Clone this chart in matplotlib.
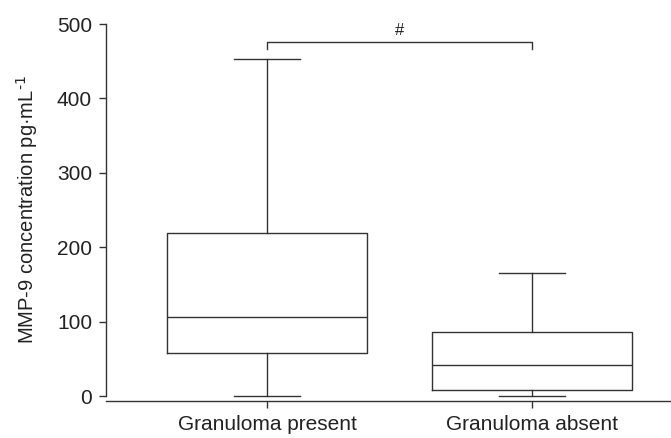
import matplotlib
matplotlib.use('Agg')
import matplotlib.pyplot as plt

plt.rcParams['font.family'] = ['Liberation Sans', 'DejaVu Sans']

# box plot summary values (pg/mL)
groups = ['Granuloma present', 'Granuloma absent']
whisker_low = [0, 0]
q1 = [58, 8]
median = [106, 42]
q3 = [219, 86]
whisker_high = [453, 165]

yticks = [0, 100, 200, 300, 400, 500]
sig_label = '#'
sig_pair = (1, 2)
sig_height = 476
sig_drop = 10

line_col = '#333333'
txt_col = '#222222'

fig = plt.figure(figsize=(6.71, 4.38), dpi=100)
ax = fig.add_axes([106/671, 42/438, 565/671, 372/438])

stats = []
for i in range(len(groups)):
    stats.append(dict(label=groups[i], whislo=whisker_low[i], q1=q1[i],
                      med=median[i], q3=q3[i], whishi=whisker_high[i], fliers=[]))

props = dict(color=line_col, linewidth=1.0)
ax.bxp(stats, positions=[1, 2], widths=0.755, capwidths=0.25, showfliers=False,
       boxprops=props, medianprops=props, whiskerprops=props, capprops=props,
       manage_ticks=False)
for art in ax.lines:
    art.set_clip_on(False)

# significance bracket
x0, x1 = sig_pair
ax.plot([x0, x0, x1, x1], [sig_height - sig_drop, sig_height, sig_height, sig_height - sig_drop],
        color=line_col, linewidth=1.0, clip_on=False)
ax.text((x0 + x1) / 2, sig_height + 5, sig_label, ha='center', va='bottom',
        fontsize=12, color=txt_col)

ax.set_xlim(0.392, 2.525)
ax.set_ylim(0, 500)
ax.set_xticks([1, 2])
ax.set_xticklabels(groups)
ax.set_yticks(yticks)
ax.set_yticklabels([str(v) for v in yticks])
ax.set_ylabel(r'MMP-9 concentration pg·mL$^{\text{-1}}$', fontsize=14.5, color=txt_col, labelpad=12)

ax.spines['top'].set_visible(False)
ax.spines['right'].set_visible(False)
ax.spines['bottom'].set_position(('outward', 3.6))
for s in ['left', 'bottom']:
    ax.spines[s].set_color(line_col)
    ax.spines[s].set_linewidth(1.0)
ax.tick_params(axis='both', direction='out', length=5, width=1.0, color=line_col,
               labelsize=15, labelcolor=txt_col)
ax.tick_params(axis='y', pad=5)
ax.tick_params(axis='x', pad=5)

fig.savefig('out.png', dpi=100)
